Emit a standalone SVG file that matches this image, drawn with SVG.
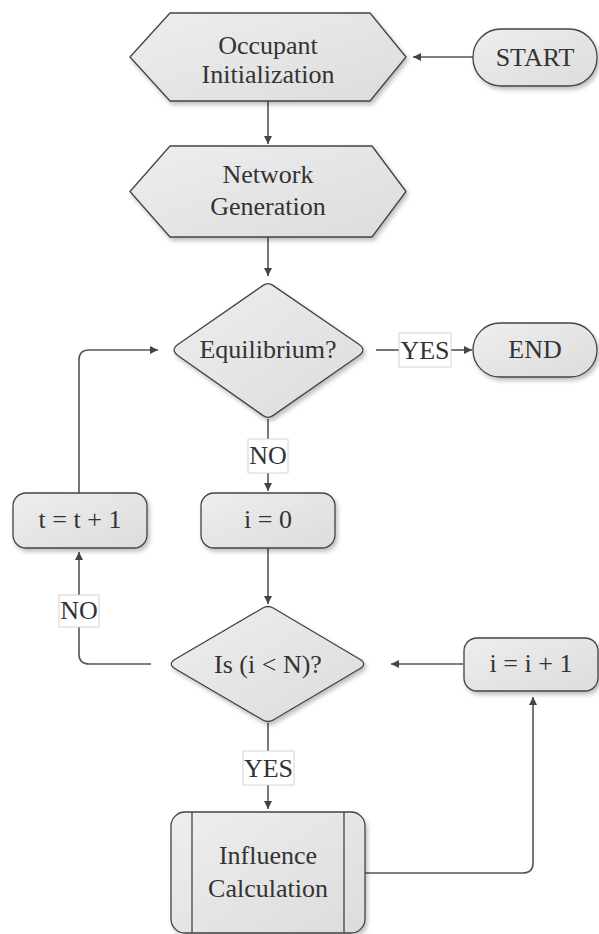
<svg xmlns="http://www.w3.org/2000/svg" width="599" height="934" viewBox="0 0 599 934">
<defs>
<linearGradient id="g" x1="0" y1="0" x2="1" y2="1">
<stop offset="0" stop-color="#eeeeee"/>
<stop offset="1" stop-color="#dcdcdc"/>
</linearGradient>
<filter id="sh" x="-10%" y="-10%" width="130%" height="130%">
<feDropShadow dx="2" dy="3" stdDeviation="2" flood-color="#000" flood-opacity="0.25"/>
</filter>
<marker id="ah" viewBox="0 0 10 10" refX="10" refY="5" markerWidth="8" markerHeight="8" markerUnits="userSpaceOnUse" orient="auto">
<path d="M0,0 L10,5 L0,10 Z" fill="#444"/>
</marker>
</defs>
<style>
.n{fill:url(#g);stroke:#444;stroke-width:1.3;stroke-linejoin:round;filter:url(#sh)}
text{font-family:'Liberation Serif','Times New Roman',Times,serif;font-size:26px;fill:#333;text-anchor:middle}
.c{fill:none;stroke:#555;stroke-width:1.6}
.a{marker-end:url(#ah)}
.lb{fill:#fff;stroke:#d4d4d4;stroke-width:1}
</style>
<g id="connectors">
<path class="c a" d="M473,57 H413"/>
<path class="c a" d="M268,101 V144"/>
<path class="c a" d="M268,237 V276"/>
<path class="c" d="M376,350 H399"/>
<path class="c a" d="M451,350 H472"/>
<path class="c" d="M268,419 V439"/>
<path class="c a" d="M268,473 V491"/>
<path class="c a" d="M268,548 V604"/>
<path class="c" d="M151,664 H89 Q79,664 79,654 V627"/>
<path class="c a" d="M79,595 V552"/>
<path class="c a" d="M79,493 V360 Q79,350 89,350 H158"/>
<path class="c" d="M268,723 V751"/>
<path class="c a" d="M268,785 V809"/>
<path class="c a" d="M365,873 H523 Q533,873 533,863 V697"/>
<path class="c a" d="M463,664 H391"/>
<g id="lbl-yes1"><rect class="lb" x="399" y="333" width="52" height="34"/><text x="425" y="359" font-family="Liberation Serif, serif">YES</text></g>
<g id="lbl-no1"><rect class="lb" x="248" y="439" width="40" height="34"/><text x="268" y="464" font-family="Liberation Serif, serif">NO</text></g>
<g id="lbl-no2"><rect class="lb" x="59" y="595" width="40" height="32"/><text x="79" y="619" font-family="Liberation Serif, serif">NO</text></g>
<g id="lbl-yes2"><rect class="lb" x="243" y="751" width="51" height="34"/><text x="268.5" y="777" font-family="Liberation Serif, serif">YES</text></g>
</g>
<g id="start">
<rect class="n" x="473" y="29" width="124" height="57" rx="28"/>
<text x="535" y="66" font-family="Liberation Serif, serif">START</text>
</g>
<g id="occupant">
<polygon class="n" points="130,57 170,13 370,13 406,57 370,101 170,101"/>
<text x="268" y="54" font-family="Liberation Serif, serif">Occupant</text>
<text x="268" y="83" font-family="Liberation Serif, serif">Initialization</text>
</g>
<g id="network">
<polygon class="n" points="130,191.5 170,146 372,146 406,191.5 372,237 170,237"/>
<text x="268" y="183" font-family="Liberation Serif, serif">Network</text>
<text x="268" y="215" font-family="Liberation Serif, serif">Generation</text>
</g>
<g id="equilibrium">
<path class="n" d="M263.1,285.4 Q268,282 272.9,285.4 L358.8,344.3 Q367,350 358.8,355.7 L272.9,415.6 Q268,419 263.1,415.6 L178.2,355.7 Q170,350 178.2,344.3 Z"/>
<text x="268" y="358" font-family="Liberation Serif, serif">Equilibrium?</text>
</g>
<g id="end">
<rect class="n" x="473" y="323" width="124" height="54" rx="27"/>
<text x="535" y="358" font-family="Liberation Serif, serif">END</text>
</g>
<g id="t-inc">
<rect class="n" x="13" y="493" width="134" height="55" rx="13"/>
<text x="80" y="528" font-family="Liberation Serif, serif">t = t + 1</text>
</g>
<g id="i-zero">
<rect class="n" x="201" y="493" width="134" height="55" rx="13"/>
<text x="268" y="528" font-family="Liberation Serif, serif">i = 0</text>
</g>
<g id="is-lt-n">
<path class="n" d="M262.8,608 Q268,605 273.2,608 L359.4,659 Q368,664 359.4,669 L273.2,720 Q268,723 262.8,720 L175.6,669 Q167,664 175.6,659 Z"/>
<text x="268" y="673" font-family="Liberation Serif, serif">Is (i &lt; N)?</text>
</g>
<g id="i-inc">
<rect class="n" x="464" y="638" width="134" height="53" rx="13"/>
<text x="531" y="672" font-family="Liberation Serif, serif">i = i + 1</text>
</g>
<g id="influence">
<rect class="n" x="171" y="812" width="194" height="121" rx="14"/>
<line x1="192" y1="812" x2="192" y2="933" stroke="#444" stroke-width="1.3"/>
<line x1="344" y1="812" x2="344" y2="933" stroke="#444" stroke-width="1.3"/>
<text x="268" y="864" font-family="Liberation Serif, serif">Influence</text>
<text x="268" y="897" font-family="Liberation Serif, serif">Calculation</text>
</g>
</svg>
